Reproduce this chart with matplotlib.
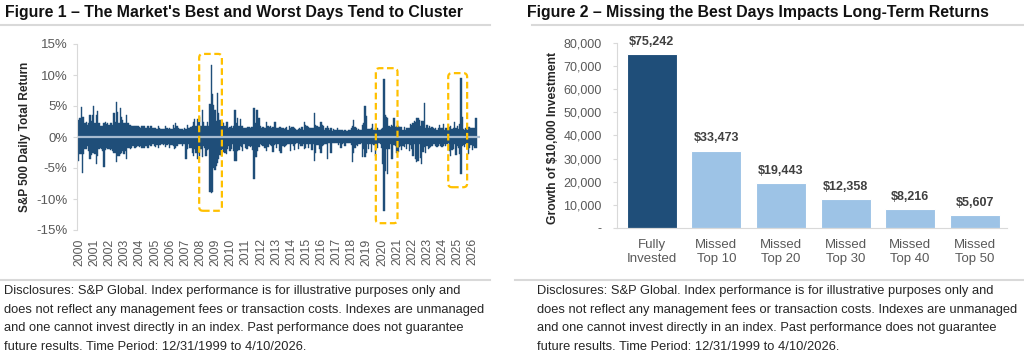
import numpy as np
import matplotlib
matplotlib.use("Agg")
from matplotlib import pyplot as plt
from matplotlib.patches import FancyBboxPatch
from matplotlib.lines import Line2D
from matplotlib.ticker import FuncFormatter

plt.rcParams['font.family'] = ['Liberation Sans', 'DejaVu Sans']

# best / worst daily return (%) inside each month
start_year = 2000
monthly_best = [
    [2.7, 3.0, 4.8, 3.3, 3.2, 2.3, 2.5, 1.9, 2.2, 3.5, 2.5, 3.5],   # 2000
    [5.0, 2.3, 3.6, 4.2, 2.3, 1.8, 1.8, 1.8, 2.2, 2.5, 2.1, 2.2],   # 2001
    [1.9, 2.2, 2.2, 1.9, 3.8, 2.4, 5.7, 4.0, 2.3, 4.7, 3.3, 2.7],   # 2002
    [2.2, 2.2, 3.5, 2.2, 2.0, 2.0, 1.8, 1.7, 1.8, 1.7, 1.8, 1.7],   # 2003
    [1.6, 1.5, 1.7, 1.7, 1.8, 1.5, 1.5, 1.8, 1.5, 1.7, 1.7, 1.4],   # 2004
    [1.4, 1.4, 1.3, 1.8, 1.4, 1.3, 1.3, 1.3, 1.3, 1.7, 1.5, 1.3],   # 2005
    [1.4, 1.3, 1.3, 1.9, 1.4, 2.2, 1.7, 1.4, 1.3, 1.3, 1.3, 1.2],   # 2006
    [1.4, 1.3, 2.0, 1.4, 1.4, 1.6, 1.7, 2.5, 2.9, 1.8, 2.9, 2.9],   # 2007
    [3.2, 1.8, 4.3, 2.5, 1.7, 1.8, 2.5, 1.8, 5.4, 11.6, 6.9, 5.2],  # 2008
    [4.4, 2.6, 7.1, 3.9, 2.7, 1.8, 2.4, 2.3, 1.8, 2.4, 2.5, 1.5],   # 2009
    [1.6, 1.8, 1.4, 1.7, 4.4, 2.3, 3.1, 1.8, 2.9, 1.8, 1.8, 1.4],   # 2010
    [1.4, 1.4, 1.6, 1.6, 1.4, 1.6, 1.6, 4.7, 2.2, 4.3, 4.3, 3.0],   # 2011
    [1.8, 1.4, 1.6, 1.4, 1.5, 2.5, 1.8, 1.6, 1.7, 1.4, 1.6, 2.5],   # 2012
    [2.5, 1.4, 1.4, 1.6, 1.6, 1.5, 1.4, 1.3, 1.4, 1.6, 1.2, 1.7],   # 2013
    [1.4, 1.6, 1.6, 1.4, 1.3, 1.2, 1.3, 1.4, 1.3, 1.6, 1.1, 2.4],   # 2014
    [2.0, 1.7, 1.6, 1.4, 1.4, 1.4, 1.4, 3.9, 1.9, 1.8, 1.6, 1.6],   # 2015
    [2.5, 1.9, 1.7, 1.2, 1.4, 1.8, 1.5, 1.1, 1.5, 1.0, 1.3, 1.2],   # 2016
    [1.2, 1.4, 1.1, 1.2, 1.1, 1.1, 1.0, 1.2, 1.0, 1.0, 1.2, 1.1],   # 2017
    [1.4, 1.7, 2.7, 1.6, 1.4, 1.2, 1.3, 1.2, 1.1, 1.9, 2.3, 5.0],   # 2018
    [3.4, 1.3, 1.3, 1.3, 1.4, 2.1, 1.2, 1.4, 1.3, 1.5, 1.2, 1.2],   # 2019
    [1.3, 1.5, 9.4, 3.5, 3.2, 3.0, 1.8, 1.6, 2.0, 1.8, 3.0, 1.6],   # 2020
    [1.7, 1.7, 1.6, 1.6, 1.6, 1.2, 1.6, 1.2, 1.4, 1.4, 1.4, 2.1],   # 2021
    [1.9, 2.2, 2.6, 2.5, 3.0, 3.1, 2.8, 1.7, 2.6, 2.6, 5.5, 1.5],   # 2022
    [1.9, 1.4, 1.8, 1.5, 1.6, 1.4, 1.3, 1.5, 1.2, 1.4, 1.9, 1.5],   # 2023
    [1.4, 2.1, 1.2, 1.4, 1.4, 1.2, 1.6, 1.7, 1.3, 1.4, 2.5, 1.4],   # 2024
    [1.8, 1.3, 2.1, 9.5, 3.3, 1.3, 1.2, 1.5, 1.1, 1.6, 1.6, 1.4],   # 2025
    [1.4, 1.4, 1.4, 3.0],                                           # 2026
]
monthly_worst = [
    [-3.8, -2.8, -2.7, -5.8, -2.7, -2.0, -2.0, -1.5, -2.2, -3.6, -2.9, -2.6],
    [-2.5, -2.7, -4.3, -3.0, -2.0, -1.8, -1.9, -2.3, -4.9, -2.1, -1.8, -1.9],
    [-1.9, -2.1, -1.9, -2.2, -2.5, -2.6, -4.0, -3.0, -3.0, -2.8, -2.5, -2.3],
    [-2.8, -2.2, -3.5, -1.8, -1.7, -1.9, -1.7, -1.5, -1.7, -1.8, -1.6, -1.5],
    [-1.6, -1.5, -1.8, -1.7, -1.8, -1.4, -1.4, -1.8, -1.3, -1.4, -1.4, -1.2],
    [-1.4, -1.6, -1.3, -1.7, -1.3, -1.3, -1.2, -1.3, -1.2, -1.6, -1.3, -1.2],
    [-1.8, -1.3, -1.3, -1.4, -1.9, -1.8, -1.4, -1.2, -1.1, -1.1, -1.5, -1.2],
    [-1.2, -3.5, -2.0, -1.2, -1.8, -1.7, -2.6, -3.0, -1.9, -2.6, -3.5, -2.5],
    [-3.0, -2.0, -3.2, -1.5, -1.8, -3.1, -2.1, -2.0, -8.8, -9.0, -8.9, -5.0],
    [-5.3, -4.7, -4.2, -3.5, -2.9, -3.0, -1.9, -2.4, -2.6, -2.8, -1.9, -1.5],
    [-2.2, -1.9, -1.2, -2.3, -3.9, -3.9, -2.2, -2.1, -1.4, -1.6, -2.3, -1.1],
    [-1.8, -2.0, -1.9, -1.4, -1.6, -1.4, -2.1, -6.7, -3.2, -3.2, -2.2, -1.6],
    [-1.1, -1.3, -1.5, -1.7, -1.7, -2.2, -1.6, -1.2, -1.3, -1.5, -2.4, -1.3],
    [-1.2, -1.8, -1.2, -2.3, -2.5, -2.5, -1.5, -1.6, -1.4, -1.3, -1.1, -1.2],
    [-2.3, -1.2, -1.5, -2.1, -1.2, -1.0, -2.0, -1.2, -1.5, -1.5, -1.1, -1.9],
    [-1.8, -1.1, -1.7, -1.2, -1.2, -2.1, -1.1, -3.9, -2.5, -1.3, -1.3, -2.0],
    [-2.5, -1.4, -1.3, -1.2, -1.1, -3.6, -1.0, -1.0, -2.5, -1.0, -1.0, -0.9],
    [-1.0, -0.9, -1.3, -1.0, -1.8, -1.1, -0.9, -1.5, -0.9, -0.9, -0.9, -0.9],
    [-1.3, -4.1, -2.5, -1.7, -1.3, -1.4, -1.1, -1.1, -1.0, -3.3, -1.9, -3.2],
    [-2.5, -1.1, -1.9, -1.1, -2.4, -1.2, -1.3, -3.0, -1.3, -1.8, -1.0, -1.1],
    [-1.8, -4.4, -12.0, -5.5, -2.0, -5.9, -1.9, -1.1, -3.5, -3.5, -1.3, -1.4],
    [-2.6, -2.4, -1.6, -1.4, -2.1, -1.4, -1.6, -1.1, -2.0, -1.1, -2.3, -1.3],
    [-1.9, -3.0, -1.2, -3.6, -4.0, -3.9, -1.2, -3.4, -4.3, -2.4, -1.6, -2.5],
    [-1.5, -2.0, -1.8, -1.6, -1.4, -1.1, -1.2, -1.4, -1.6, -1.4, -1.1, -1.5],
    [-1.6, -1.4, -1.1, -1.4, -1.1, -1.0, -2.3, -3.0, -2.1, -1.9, -1.1, -2.9],
    [-1.5, -1.7, -2.7, -6.0, -1.4, -1.3, -1.6, -1.2, -1.1, -2.7, -1.7, -1.3],
    [-2.1, -1.5, -1.7, -1.8],
]
year_labels = [str(y) for y in range(2000, 2027)]

# dashed call-out boxes (x0, x1 in years, y0, y1 in %)
clusters = [(2008.0, 2009.5, -11.9, 13.4),
            (2019.67, 2021.1, -13.9, 11.1),
            (2024.45, 2025.7, -8.1, 10.3)]

# figure 2
scenarios = ["Fully\nInvested", "Missed\nTop 10", "Missed\nTop 20",
             "Missed\nTop 30", "Missed\nTop 40", "Missed\nTop 50"]
growth = [75242, 33473, 19443, 12358, 8216, 5607]

disclosure = [
    "Disclosures: S&P Global. Index performance is for illustrative purposes only and",
    "does not reflect any management fees or transaction costs. Indexes are unmanaged",
    "and one cannot invest directly in an index. Past performance does not guarantee",
    "future results. Time Period: 12/31/1999 to 4/10/2026.",
]

DARK = "#1f4e79"
LIGHT = "#9dc3e6"
GRID = "#d9d9d9"
TXT = "#595959"
W, H = 1024, 357


def fx(px):
    return px / W


def fy(py):
    return 1 - py / H


fig = plt.figure(figsize=(W / 100, H / 100), dpi=100)

# ---------- figure 1 ----------
ax1 = fig.add_axes([fx(77), fy(230), fx(480) - fx(77), fy(44) - fy(230)])
best = np.concatenate([np.array(r) for r in monthly_best])
worst = np.concatenate([np.array(r) for r in monthly_worst])
t = start_year + np.arange(len(best)) / 12
ax1.bar(t, best - worst, bottom=worst, width=1 / 12, align='edge',
        color=DARK, edgecolor=DARK, linewidth=0.3)
ax1.axhline(0, color="#a7bbd0", lw=1.6)
ax1.set_xlim(1999.93, 2026.55)
ax1.set_ylim(-15, 15)
ax1.set_yticks(range(-15, 16, 5))
ax1.yaxis.set_major_formatter(FuncFormatter(lambda v, p: f"{v:.0f}%"))
ax1.set_xticks(np.arange(2000, 2027) + 0.08)
ax1.set_xticklabels(year_labels, rotation=90)
ax1.tick_params(axis='x', length=0, pad=6, labelsize=8.8, labelcolor=TXT)
ax1.tick_params(axis='y', length=3, color=GRID, pad=4, labelsize=9.5, labelcolor=TXT)
for s in ['top', 'right', 'bottom']:
    ax1.spines[s].set_visible(False)
ax1.spines['left'].set_color(GRID)

fig.canvas.draw()
# keep rounded corners circular despite different x / y scales
p0 = ax1.transData.transform((2000, 0))
p1 = ax1.transData.transform((2001, 1))
aspect = (p1[0] - p0[0]) / (p1[1] - p0[1])
for x0, x1, y0, y1 in clusters:
    box = FancyBboxPatch((x0, y0), x1 - x0, y1 - y0,
                         boxstyle="round,pad=0,rounding_size=0.25",
                         mutation_aspect=aspect, fill=False,
                         edgecolor="#ffc000", lw=1.6, ls=(0, (3, 1.6)),
                         clip_on=False, zorder=5)
    ax1.add_patch(box)

fig.text(fx(25), fy(137), "S&P 500 Daily Total Return", rotation=90,
         ha='center', va='center', fontsize=8.5, fontweight='bold', color="#262626")

# ---------- figure 2 ----------
ax2 = fig.add_axes([fx(617), fy(228), fx(1007) - fx(617), fy(43) - fy(228)])
x = np.arange(len(growth))
ax2.bar(x, growth, width=0.775, color=[DARK] + [LIGHT] * 5,
        edgecolor="white", linewidth=0.8)
for xi, v in zip(x, growth):
    ax2.text(xi, v + 2800, f"${v:,}", ha='center', va='bottom',
             fontsize=9, fontweight='bold', color="#404040")
ax2.set_xlim(-0.54, 5.5)
ax2.set_ylim(0, 80000)
ax2.set_yticks(range(0, 80001, 10000))
ax2.yaxis.set_major_formatter(FuncFormatter(lambda v, p: "-" if v == 0 else f"{v:,.0f}"))
ax2.set_xticks(x)
ax2.set_xticklabels(scenarios)
ax2.tick_params(axis='x', length=0, pad=8, labelsize=9.5, labelcolor=TXT)
ax2.tick_params(axis='y', length=3, color=GRID, pad=8, labelsize=9, labelcolor=TXT)
for s in ['top', 'right']:
    ax2.spines[s].set_visible(False)
ax2.spines['left'].set_color(GRID)
ax2.spines['bottom'].set_color(GRID)

fig.text(fx(553), fy(138), "Growth of $10,000 Investment", rotation=90,
         ha='center', va='center', fontsize=8.7, fontweight='bold', color="#262626")

# ---------- titles, rules, notes ----------
fig.text(fx(5), fy(12), "Figure 1 \u2013 The Market's Best and Worst Days Tend to Cluster",
         ha='left', va='center', fontsize=11.4, fontweight='bold', color="#111111")
fig.text(fx(527), fy(12), "Figure 2 \u2013 Missing the Best Days Impacts Long-Term Returns",
         ha='left', va='center', fontsize=11.4, fontweight='bold', color="#111111")

for xa, xb in [(0, 490), (532, 1024)]:
    fig.add_artist(Line2D([fx(xa), fx(xb)], [fy(25), fy(25)], color=GRID, lw=1.5))
for xa, xb in [(0, 490), (515, 1024)]:
    fig.add_artist(Line2D([fx(xa), fx(xb)], [fy(280), fy(280)], color=GRID, lw=1.5))

for i, line in enumerate(disclosure):
    yy = fy(291 + i * 18.5)
    fig.text(fx(4), yy, line, ha='left', va='center', fontsize=9.3, color="#262626")
    fig.text(fx(537), yy, line, ha='left', va='center', fontsize=9.3, color="#262626")

fig.savefig("out.png", dpi=100)
